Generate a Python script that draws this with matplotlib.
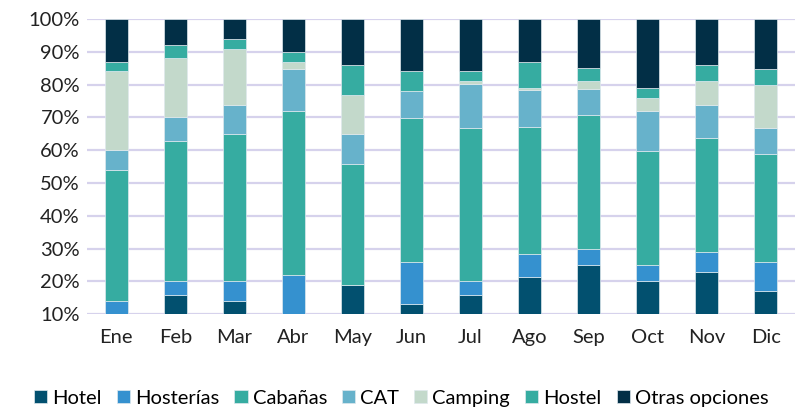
import numpy as np
import matplotlib.pyplot as plt
from matplotlib.ticker import FuncFormatter

meses = ['Ene', 'Feb', 'Mar', 'Abr', 'May', 'Jun', 'Jul', 'Ago', 'Sep', 'Oct', 'Nov', 'Dic']

# participacion (%) por tipo de alojamiento
hotel      = [9.5, 15.9, 13.9, 9.5, 18.9, 13.0, 15.9, 21.2, 25.0, 20.0, 22.8, 16.9]
hosterias  = [4.6, 4.1, 6.1, 12.4, 0.0, 12.8, 4.1, 7.2, 4.9, 5.0, 6.2, 8.9]
cabanas    = [40.0, 42.9, 44.9, 50.1, 37.0, 44.1, 46.8, 38.6, 40.9, 34.7, 34.8, 33.1]
cat        = [5.9, 7.1, 8.9, 12.9, 9.1, 8.2, 13.3, 11.3, 8.0, 12.2, 10.0, 7.9]
camping    = [24.2, 18.1, 17.1, 2.1, 11.9, 0.0, 1.0, 0.6, 2.2, 4.1, 7.2, 13.0]
hostel     = [2.8, 4.0, 3.1, 2.9, 9.0, 6.0, 3.0, 7.9, 4.1, 2.9, 5.0, 5.1]
otras      = [13.0, 7.9, 6.0, 10.0, 14.0, 15.9, 15.9, 13.2, 14.9, 21.1, 14.0, 15.0]

series = [
    ('Hotel', hotel, '#02506f'),
    ('Hosterías', hosterias, '#3591cf'),
    ('Cabañas', cabanas, '#36aca1'),
    ('CAT', cat, '#67b2cb'),
    ('Camping', camping, '#c3d9cb'),
    ('Hostel', hostel, '#36aca1'),
    ('Otras opciones', otras, '#022f46'),
]

plt.rcParams['font.family'] = ['Lato', 'DejaVu Sans']

fig = plt.figure(figsize=(8.04, 4.09), dpi=100)
ax = fig.add_axes([0.108, 0.232, 0.881, 0.7215])

x = np.arange(len(meses))
base = np.zeros(len(meses))
for nombre, vals, color in series:
    v = np.array(vals)
    ax.bar(x, v, 0.4, bottom=base, color=color, label=nombre,
           edgecolor='#dfe9ee', linewidth=0.5, zorder=3)
    base += v

ax.set_ylim(10, 100)
ax.set_xlim(-0.5, len(meses) - 0.5)
ax.set_yticks(np.arange(10, 101, 10))
ax.yaxis.set_major_formatter(FuncFormatter(lambda v, p: f'{v:.0f}%'))
ax.set_xticks(x)
ax.set_xticklabels(meses)
ax.grid(axis='y', color='#d6d2ec', linewidth=1.6, zorder=0)
for s in ax.spines.values():
    s.set_visible(False)
ax.tick_params(length=0, labelsize=14.5, colors='#222222')
ax.tick_params(axis='x', pad=11)
ax.tick_params(axis='y', pad=5)

ax.legend(loc='center', bbox_to_anchor=(0.444, -0.285), ncol=7, frameon=False,
          fontsize=14.5, handlelength=0.65, handleheight=0.65, handletextpad=0.25,
          columnspacing=0.75, borderaxespad=0, borderpad=0)

fig.savefig('out.png', dpi=100)
